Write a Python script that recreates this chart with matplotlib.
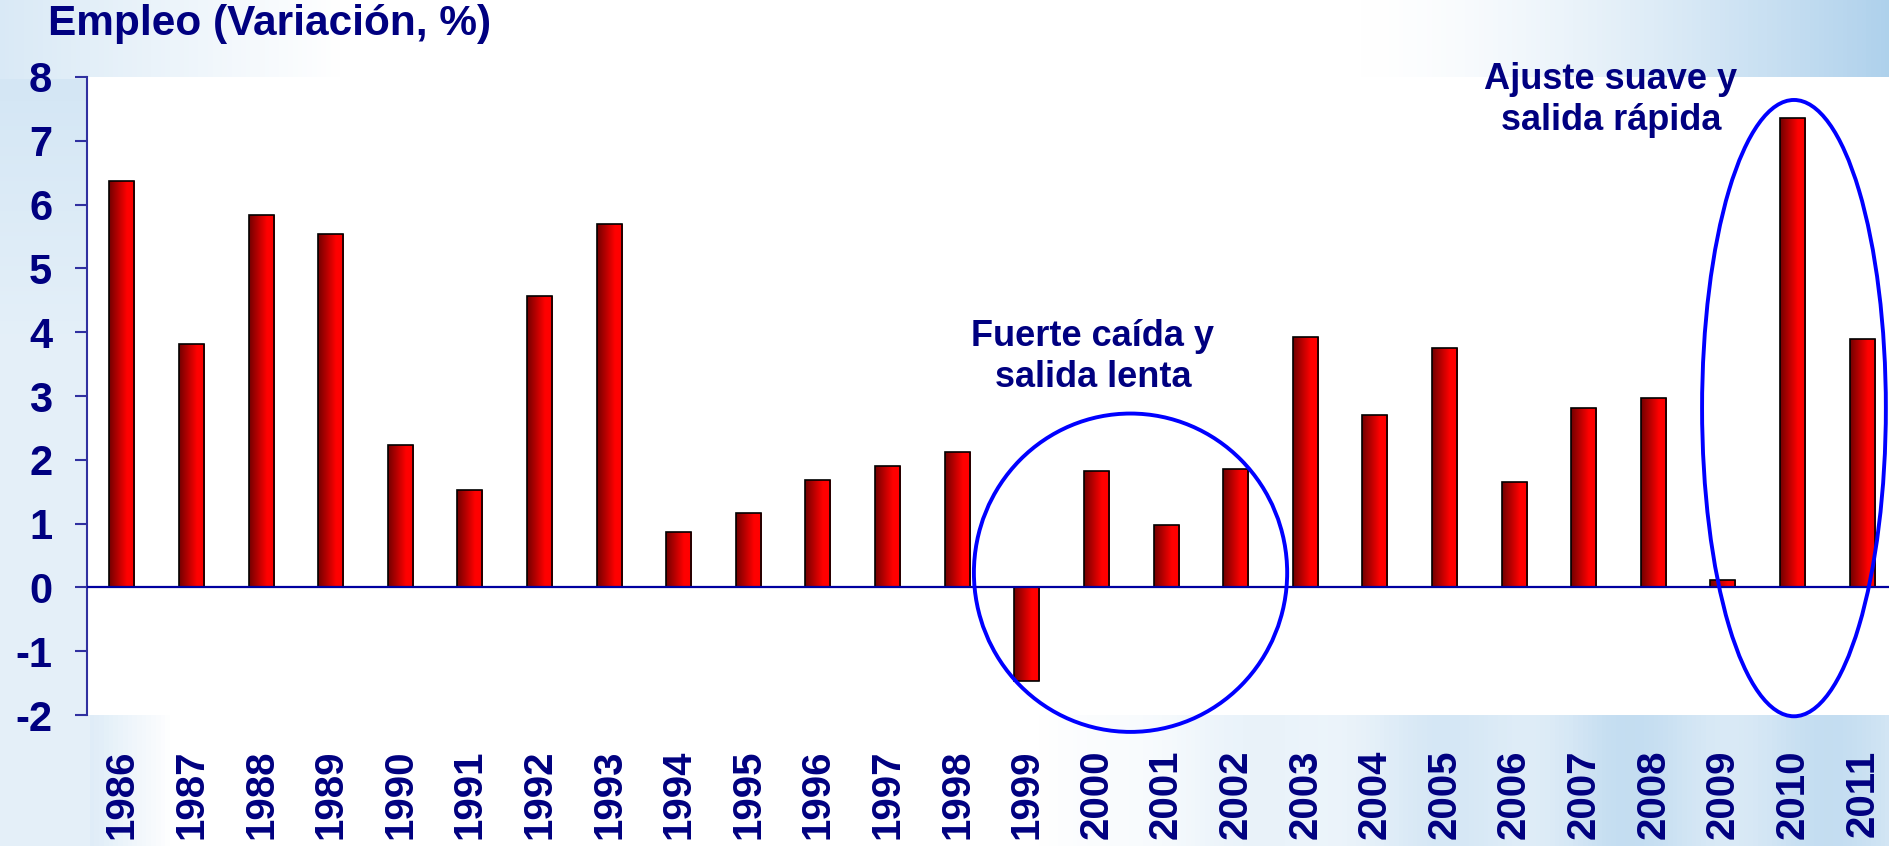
import numpy as np
import matplotlib.pyplot as plt
from matplotlib.patches import Ellipse

# ===================================================
# Data
# ===================================================

years = [str(y) for y in range(1986, 2012)]

empleo = [6.37, 3.82, 5.84, 5.54, 2.23, 1.53, 4.56, 5.69, 0.87, 1.17,
          1.68, 1.91, 2.12, -1.47, 1.83, 0.98, 1.85, 3.92, 2.71, 3.75,
          1.65, 2.81, 2.97, 0.11, 7.35, 3.90]

y_ticks = [-2, -1, 0, 1, 2, 3, 4, 5, 6, 7, 8]

title = "Empleo (Variación, %)"
note_1 = "Fuerte caída y\nsalida lenta"
note_2 = "Ajuste suave y\nsalida rápida"

NAVY = "#000080"
FONT = "Liberation Sans"

# ===================================================
# Figure + background
# ===================================================

fig = plt.figure(figsize=(18.9, 8.46), dpi=100)

ax_bg = fig.add_axes([0, 0, 1, 1], zorder=-1)
u, v = np.meshgrid(np.linspace(0, 1, 400), np.linspace(1, 0, 200))
t = np.zeros_like(u)
# top strip
top = v > 0.905
t = np.where(top, np.clip((0.18 - u) / 0.18, 0, 1) * 0.35
             + np.clip((u - 0.72) / 0.28, 0, 1) ** 1.5 * 0.75, t)
# left strip
left = u < 0.046
t = np.where(left & ~top, 0.25 + 0.15 * np.clip((v - 0.6) / 0.3, 0, 1), t)
# bottom strip
bot = v < 0.155
t = np.where(bot & ~left,
             np.clip((0.09 - u) / 0.05, 0, 1) * 0.35
             + np.clip((u - 0.55) / 0.3, 0, 1) * (0.45 + 0.1 * np.sin(u * 60)),
             t)
blue = np.array([0.58, 0.76, 0.90])
bg = 1 - t[..., None] * (1 - blue)
ax_bg.imshow(bg, extent=[0, 1, 0, 1], aspect="auto")
ax_bg.axis("off")

# ===================================================
# Bars with horizontal gradient
# ===================================================

ax = fig.add_axes([87 / 1890, 131 / 846, 1810 / 1890, 638 / 846])
ax.set_facecolor("white")

x = np.arange(len(years))
bars = ax.bar(x, empleo, width=0.36, color="none", edgecolor="black",
              linewidth=1.2, zorder=3)

grad = np.linspace(0, 1, 64)
grad = np.clip(grad / 0.7, 0, 1)
cols = np.zeros((1, 64, 3))
cols[0, :, 0] = 0.45 + 0.55 * grad
for b in bars:
    x0, y0 = b.get_x(), b.get_y()
    w, h = b.get_width(), b.get_height()
    im = ax.imshow(cols, extent=[x0, x0 + w, y0, y0 + h], aspect="auto",
                   zorder=2, interpolation="bilinear")
    im.set_clip_path(b)

ax.axhline(0, color="#0000a0", linewidth=1.6, zorder=4)

ax.set_xlim(-0.5, len(years) - 0.5)
ax.set_ylim(-2, 8)

# ===================================================
# Axes styling
# ===================================================

for s in ["top", "right", "bottom"]:
    ax.spines[s].set_visible(False)
ax.spines["left"].set_color("#3030a0")
ax.spines["left"].set_linewidth(1.5)

ax.set_yticks(y_ticks)
ax.set_yticklabels([str(v) for v in y_ticks])
ax.tick_params(axis="y", length=9, width=1.5, color="#3030a0", pad=16)
ax.set_xticks(x)
ax.set_xticklabels(years, rotation=90)
ax.tick_params(axis="x", length=0, pad=25)

for lab in ax.get_yticklabels():
    lab.set_fontfamily(FONT)
    lab.set_fontweight("bold")
    lab.set_fontsize(30)
    lab.set_color(NAVY)
for lab in ax.get_xticklabels():
    lab.set_fontfamily(FONT)
    lab.set_fontweight("bold")
    lab.set_fontsize(29)
    lab.set_color(NAVY)

# ===================================================
# Annotations
# ===================================================

e1 = Ellipse((14.49, 0.23), 4.5, 4.99, fill=False, edgecolor="#0000ff",
             linewidth=2.8, clip_on=False, zorder=5)
e2 = Ellipse((24.02, 2.81), 2.64, 9.66, fill=False, edgecolor="#0000ff",
             linewidth=2.8, clip_on=False, zorder=5)
ax.add_patch(e1)
ax.add_patch(e2)

ax.text(13.95, 3.61, note_1, ha="center", va="center", fontsize=26,
        fontweight="bold", color=NAVY, family=FONT, linespacing=1.25,
        clip_on=False)
ax.text(21.39, 7.64, note_2, ha="center", va="center", fontsize=26,
        fontweight="bold", color=NAVY, family=FONT, linespacing=1.25,
        clip_on=False)

fig.text(48 / 1890, 1 - 24 / 846, title, ha="left", va="center",
         fontsize=30.5, fontweight="bold", color=NAVY, family=FONT)

fig.savefig("out.png", dpi=100)
